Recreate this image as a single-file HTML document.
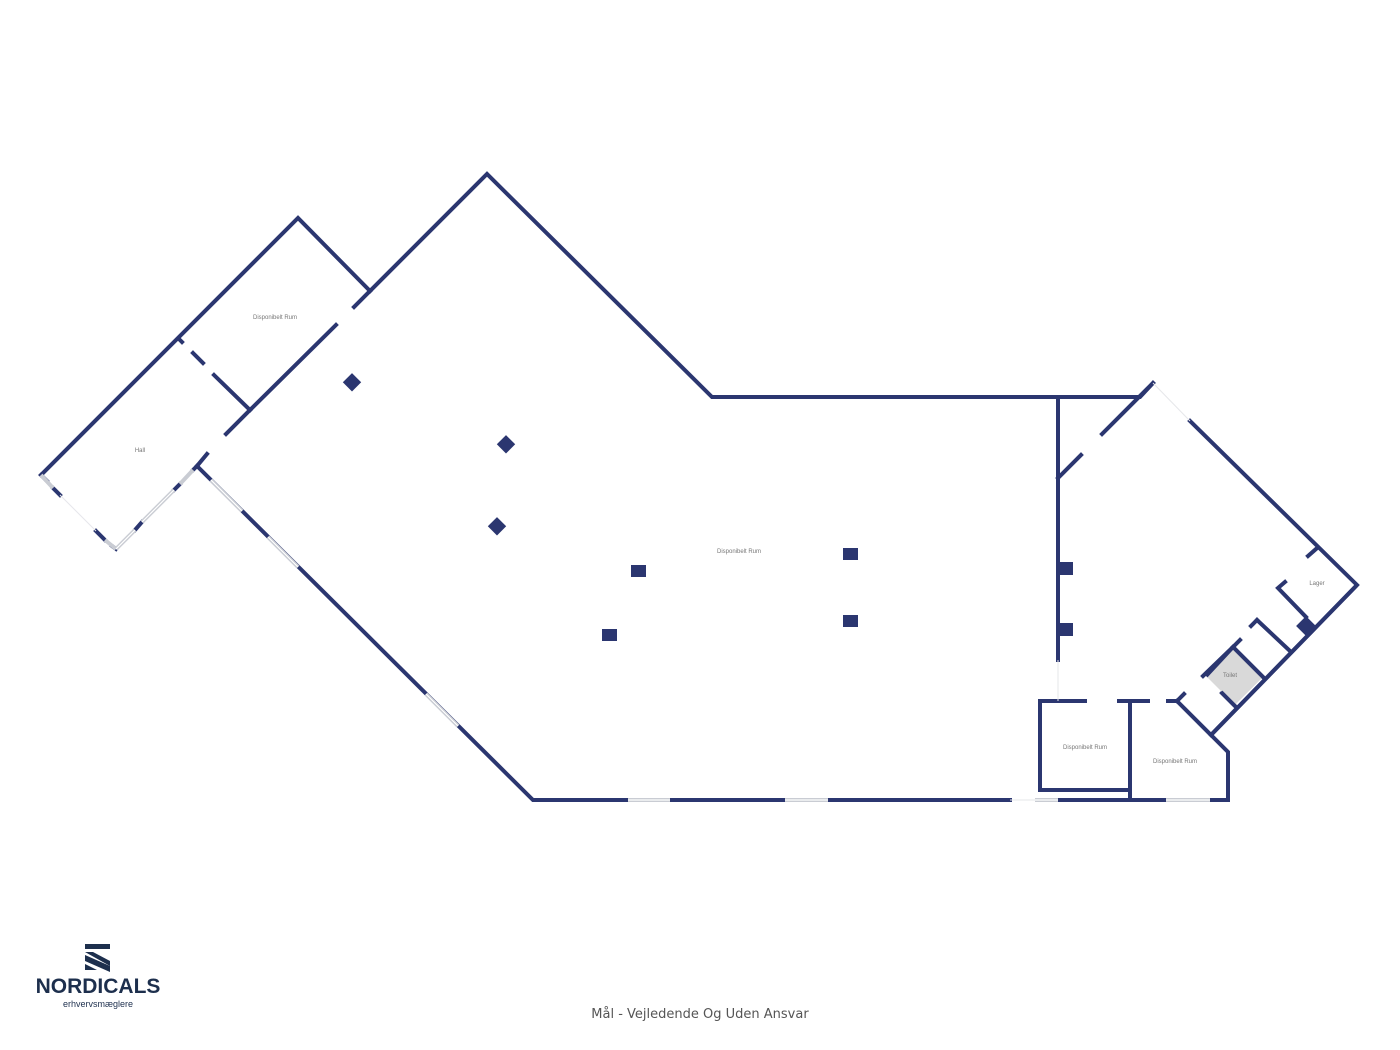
<!DOCTYPE html>
<html><head><meta charset="utf-8"><style>
html,body{margin:0;padding:0;background:#fff;}
svg{display:block;}
text{font-family:"Liberation Sans",sans-serif;fill:#777;}
</style></head><body>
<svg width="1400" height="1050" viewBox="0 0 1400 1050" xmlns="http://www.w3.org/2000/svg">
<g stroke="#2b3670" stroke-width="4" fill="none" stroke-linecap="square">
<polyline points="197,466 533,800 1010,800"/>
<line x1="1058" y1="800" x2="1228" y2="800"/>
<polyline points="1228,800 1228,752 1211,735 1357,585 1190,421"/>
<polyline points="1153,383 1140,397 712,397 487,174 370,291"/>
<line x1="370" y1="291" x2="354" y2="307"/>
<line x1="336" y1="325" x2="250" y2="410"/>
<line x1="250" y1="410" x2="226" y2="434"/>
<line x1="207" y1="454" x2="197" y2="466"/>
<polyline points="370,291 298,218 41,475"/>
<line x1="41" y1="475" x2="47" y2="481"/>
<line x1="53" y1="488" x2="60" y2="495"/>
<line x1="96" y1="531" x2="105" y2="540"/>
<line x1="112" y1="546" x2="116" y2="549"/>
<line x1="135" y1="530" x2="142" y2="522"/>
<line x1="174" y1="490" x2="180" y2="484"/>
<line x1="193" y1="470" x2="197" y2="466"/>
<line x1="180" y1="340" x2="182" y2="342"/>
<line x1="193" y1="353" x2="203" y2="363"/>
<line x1="214" y1="375" x2="250" y2="410"/>
<line x1="1058" y1="397" x2="1058" y2="660"/>
<line x1="1058" y1="478" x2="1081" y2="455"/>
<line x1="1102" y1="434" x2="1153" y2="383"/>
<line x1="1040" y1="701" x2="1085" y2="701"/>
<line x1="1119" y1="701" x2="1148" y2="701"/>
<line x1="1168" y1="701" x2="1177" y2="701"/>
<polyline points="1040,701 1040,790 1128,790"/>
<line x1="1130" y1="701" x2="1130" y2="800"/>
<line x1="1177" y1="701" x2="1211" y2="735"/>
<line x1="1177" y1="701" x2="1184" y2="694"/>
<line x1="1203" y1="676" x2="1233" y2="647"/>
<line x1="1233" y1="647" x2="1264" y2="678"/>
<line x1="1222" y1="693" x2="1235" y2="706"/>
<line x1="1233" y1="647" x2="1240" y2="640"/>
<line x1="1257" y1="620" x2="1290" y2="651"/>
<line x1="1257" y1="620" x2="1251" y2="626"/>
<polyline points="1285,582 1278,588 1306,617"/>
<line x1="1308" y1="556" x2="1316" y2="549"/>
</g>
<g stroke="#c9ccd3" stroke-width="4" stroke-linecap="butt">
<line x1="628" y1="800" x2="670" y2="800"/>
<line x1="785" y1="800" x2="828" y2="800"/>
<line x1="1035" y1="800" x2="1058" y2="800"/>
<line x1="1166" y1="800" x2="1210" y2="800"/>
<line x1="211" y1="480" x2="242" y2="511"/>
<line x1="268" y1="537" x2="298" y2="567"/>
<line x1="426" y1="694" x2="458" y2="726"/>
<line x1="41" y1="475" x2="53" y2="488"/>
<line x1="105" y1="540" x2="116" y2="549"/>
<line x1="116" y1="549" x2="135" y2="530"/>
<line x1="142" y1="522" x2="174" y2="490"/>
<line x1="180" y1="484" x2="193" y2="470"/>
</g>
<g stroke="#fff" stroke-width="1.2">
<line x1="628" y1="800" x2="670" y2="800"/>
<line x1="785" y1="800" x2="828" y2="800"/>
<line x1="1035" y1="800" x2="1058" y2="800"/>
<line x1="1166" y1="800" x2="1210" y2="800"/>
<line x1="211" y1="480" x2="242" y2="511"/>
<line x1="268" y1="537" x2="298" y2="567"/>
<line x1="426" y1="694" x2="458" y2="726"/>
<line x1="116" y1="549" x2="135" y2="530"/>
<line x1="142" y1="522" x2="174" y2="490"/>
</g>
<g stroke="#e6e7ea" stroke-width="1">
<line x1="1153" y1="383" x2="1190" y2="421"/>
<line x1="1058" y1="660" x2="1058" y2="701"/>
<line x1="1010" y1="800" x2="1035" y2="800"/>
<line x1="60" y1="495" x2="96" y2="531"/>
</g>
<polygon points="1233,649 1262,678 1235,705 1207,677" fill="#d9d9d9"/>
<g stroke="#2b3670" stroke-width="4" fill="none">
<line x1="1233" y1="647" x2="1264" y2="678"/>
<line x1="1206" y1="676" x2="1233" y2="647"/>
<line x1="1221" y1="692" x2="1235" y2="706"/>
<polyline points="1211,735 1357,585"/>
</g>
<g fill="#2b3670">
<rect x="345" y="376" width="13" height="13" transform="rotate(45 352 383)"/>
<rect x="499" y="438" width="13" height="13" transform="rotate(45 506 445)"/>
<rect x="490" y="520" width="13" height="13" transform="rotate(45 497 527)"/>
<rect x="1299" y="619" width="14" height="14" transform="rotate(45 1306 626)"/>
<rect x="631" y="565" width="15" height="12"/>
<rect x="602" y="629" width="15" height="12"/>
<rect x="843" y="548" width="15" height="12"/>
<rect x="843" y="615" width="15" height="12"/>
<rect x="1058" y="562" width="15" height="13"/>
<rect x="1058" y="623" width="15" height="13"/>
</g>
<g font-size="6" text-anchor="middle">
<text x="275" y="319">Disponibelt Rum</text>
<text x="140" y="452">Hall</text>
<text x="739" y="553">Disponibelt Rum</text>
<text x="1085" y="749">Disponibelt Rum</text>
<text x="1175" y="763">Disponibelt Rum</text>
<text x="1317" y="585">Lager</text>
<text x="1230" y="677">Toilet</text>
</g>
<text x="700" y="1018" font-size="13" text-anchor="middle" style="fill:#555;font-family:'DejaVu Sans',sans-serif">Mål - Vejledende Og Uden Ansvar</text>
<g fill="#1d2f4d">
<rect x="85" y="944" width="25" height="5"/>
<polygon points="85,952 93,952 110,961 110,966"/>
<polygon points="85,955 85,961 110,972 110,966"/>
<polygon points="85,964 85,970 97,970"/>
</g>
<text x="98" y="993" font-size="21" font-weight="bold" text-anchor="middle" style="fill:#1d2f4d">NORDICALS</text>
<text x="98" y="1007" font-size="9" text-anchor="middle" style="fill:#1d2f4d">erhvervsmæglere</text>
</svg>
</body></html>
